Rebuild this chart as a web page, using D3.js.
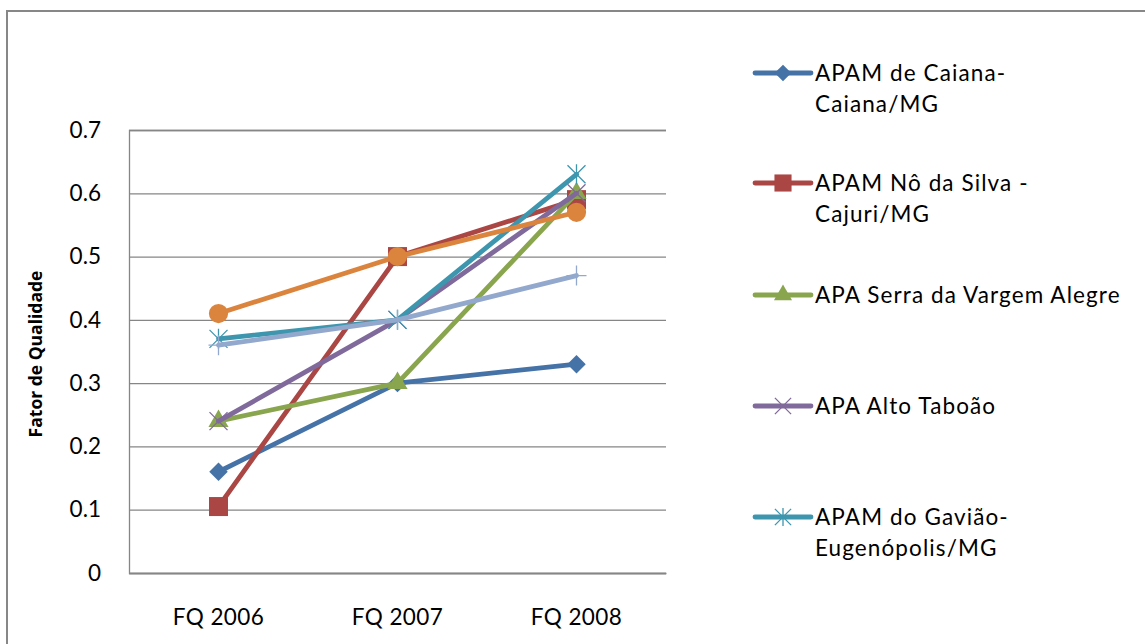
<!DOCTYPE html>
<html>
<head>
<meta charset="utf-8">
<script src="https://cdn.jsdelivr.net/npm/d3@7"></script>
<style>
  body { margin: 0; background: #fff; }
  svg { display: block; font-family: Lato, "Open Sans", sans-serif; }
</style>
</head>
<body>
<svg id="chart" width="1145" height="644"></svg>
<script>
// categories and series values
var categories = ['FQ 2006', 'FQ 2007', 'FQ 2008'];
var yTicks = [0, 0.1, 0.2, 0.3, 0.4, 0.5, 0.6, 0.7];

var caiana    = [0.16, 0.30, 0.33];
var noSilva   = [0.105, 0.50, 0.59];
var serra     = [0.24, 0.30, 0.60];
var altoTab   = [0.24, 0.40, 0.60];
var gaviao    = [0.37, 0.40, 0.63];
var serie6    = [0.41, 0.50, 0.57];
var serie7    = [0.36, 0.40, 0.47];

var legendNames = [
  ['APAM de Caiana-', 'Caiana/MG'],
  ['APAM Nô da Silva -', 'Cajuri/MG'],
  ['APA Serra da Vargem Alegre'],
  ['APA Alto Taboão'],
  ['APAM do Gavião-', 'Eugenópolis/MG']
];

var colors = ['#4572A7', '#AA4643', '#89A54E', '#80699B', '#3D96AE', '#DB843D', '#92A8CD'];
var symbols = ['diamond', 'square', 'triangle', 'x', 'star', 'circle', 'plus'];

var series = [caiana, noSilva, serra, altoTab, gaviao, serie6, serie7].map(function(values, i) {
  return {
    values: values,
    color: colors[i],
    symbol: symbols[i],
    name: legendNames[i] || null
  };
});

var svg = d3.select('#chart');
var grey = '#868686';

// outer chart border (runs off the right and bottom edge)
svg.append('rect')
  .attr('x', 7).attr('y', 11)
  .attr('width', 1300).attr('height', 800)
  .attr('fill', 'none')
  .attr('stroke', '#878787')
  .attr('stroke-width', 2);

var plot = { left: 129, right: 666, top: 130, bottom: 573 };

var x = d3.scaleBand()
  .domain(categories)
  .range([plot.left, plot.right]);

var y = d3.scaleLinear()
  .domain([0, 0.7])
  .range([plot.bottom, plot.top]);

// gridlines + y labels
var yAxis = svg.append('g')
  .attr('transform', 'translate(' + plot.left + ',0)')
  .call(d3.axisLeft(y)
    .tickValues(yTicks)
    .tickSize(-(plot.right - plot.left))
    .tickPadding(28)
    .tickFormat(function(d) { return d === 0 ? '0' : d.toFixed(1); }));

yAxis.select('.domain').attr('stroke', grey).attr('stroke-width', 1.3);
yAxis.selectAll('.tick line').attr('stroke', grey).attr('stroke-width', 1.3);
yAxis.selectAll('.tick text')
  .attr('font-size', 22.5)
  .attr('font-family', 'Lato')
  .attr('fill', '#000');

// category axis
var xAxis = svg.append('g')
  .attr('transform', 'translate(0,' + plot.bottom + ')')
  .call(d3.axisBottom(x).tickSize(0).tickPadding(36));

xAxis.select('.domain').attr('stroke', grey).attr('stroke-width', 1.3);
xAxis.selectAll('.tick text')
  .attr('font-size', 22.5)
  .attr('font-family', 'Lato')
  .attr('letter-spacing', 0.4)
  .attr('fill', '#000');

// y title
svg.append('text')
  .attr('transform', 'translate(42,354) rotate(-90)')
  .attr('text-anchor', 'middle')
  .attr('font-family', '"Open Sans", Lato, sans-serif')
  .attr('font-size', 17.5)
  .attr('font-weight', 'bold')
  .attr('fill', '#000')
  .text('Fator de Qualidade');

// marker drawing
function marker(sel, type, color, k) {
  k = k || 1;
  var r = 10 * k;
  if (type === 'diamond') {
    sel.append('path')
      .attr('d', d3.symbol(d3.symbolSquare, 170 * k * k)())
      .attr('transform', 'rotate(45)')
      .attr('fill', color);
  } else if (type === 'square') {
    sel.append('path').attr('d', d3.symbol(d3.symbolSquare, 361 * k * k)()).attr('fill', color);
  } else if (type === 'triangle') {
    sel.append('path').attr('d', d3.symbol(d3.symbolTriangle, 175 * k * k)()).attr('fill', color);
  } else if (type === 'circle') {
    sel.append('path').attr('d', d3.symbol(d3.symbolCircle, 290 * k * k)()).attr('fill', color);
  } else {
    var d = '';
    var q = r * 0.9;
    if (type === 'x' || type === 'star') {
      d += 'M' + (-q) + ',' + (-q) + 'L' + q + ',' + q + 'M' + (-q) + ',' + q + 'L' + q + ',' + (-q);
    }
    if (type === 'star' || type === 'plus') {
      d += 'M0,' + (-r) + 'L0,' + r;
    }
    if (type === 'plus') {
      d += 'M' + (-r) + ',0L' + r + ',0';
    }
    sel.append('path')
      .attr('d', d)
      .attr('fill', 'none')
      .attr('stroke', color)
      .attr('stroke-width', 1.3);
  }
}

var line = d3.line()
  .x(function(d, i) { return x(categories[i]) + x.bandwidth() / 2; })
  .y(function(d) { return y(d); });

var groups = svg.selectAll('.series')
  .data(series)
  .enter()
  .append('g')
  .attr('class', 'series');

groups.append('path')
  .attr('d', function(s) { return line(s.values); })
  .attr('fill', 'none')
  .attr('stroke', function(s) { return s.color; })
  .attr('stroke-width', 4.8)
  .attr('stroke-linejoin', 'round')
  .attr('stroke-linecap', 'round');

groups.each(function(s) {
  var g = d3.select(this);
  s.values.forEach(function(v, i) {
    var m = g.append('g')
      .attr('transform', 'translate(' + (x(categories[i]) + x.bandwidth() / 2) + ',' + y(v) + ')');
    marker(m, s.symbol, s.color);
  });
});

// legend (only the five named series)
var legendTops = [73, 183, 295, 406, 517];
var legend = svg.selectAll('.legend')
  .data(series.filter(function(s) { return s.name; }))
  .enter()
  .append('g')
  .attr('class', 'legend')
  .attr('transform', function(s, i) { return 'translate(0,' + legendTops[i] + ')'; });

legend.append('line')
  .attr('x1', 755).attr('x2', 811)
  .attr('stroke', function(s) { return s.color; })
  .attr('stroke-width', 4.8)
  .attr('stroke-linecap', 'round');

legend.each(function(s) {
  var m = d3.select(this).append('g').attr('transform', 'translate(783,0)');
  marker(m, s.symbol, s.color, 0.9);
});

legend.each(function(s) {
  var g = d3.select(this);
  s.name.forEach(function(t, j) {
    g.append('text')
      .attr('x', 815)
      .attr('y', j * 31)
      .attr('dy', '0.36em')
      .attr('font-size', 22.5)
      .attr('letter-spacing', 1.1)
      .attr('fill', '#000')
      .text(t);
  });
});
</script>
</body>
</html>
